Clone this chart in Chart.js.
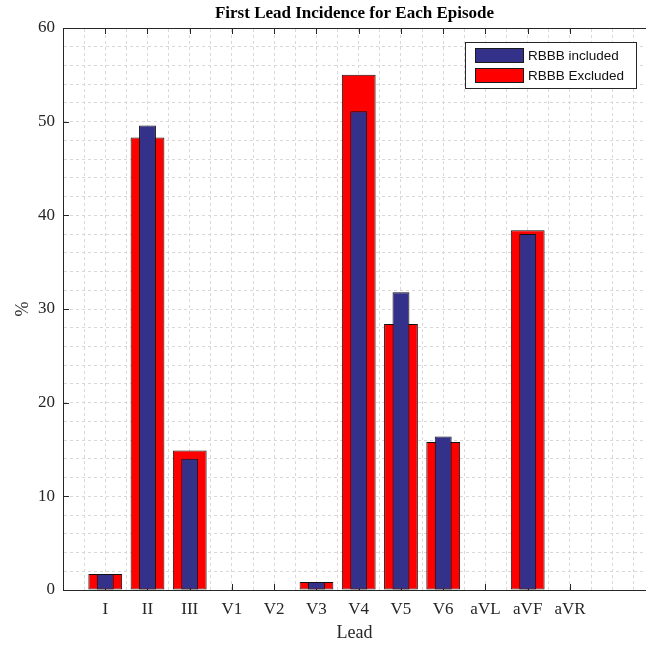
<!DOCTYPE html>
<html>
<head>
<meta charset="utf-8">
<script src="https://cdn.jsdelivr.net/npm/chart.js@4"></script>
<style>
html,body{margin:0;padding:0;overflow:hidden;background:#fff;}
#wrap{width:646px;height:646px;}
</style>
</head>
<body>
<div id="wrap"><canvas id="c" width="646" height="646"></canvas></div>
<script>
const leads = ['I','II','III','V1','V2','V3','V4','V5','V6','aVL','aVF','aVR'];
const rbbbIncluded = [1.7, 49.6, 14.0, 0, 0, 0.85, 51.1, 31.8, 16.4, 0, 38.0, 0];
const rbbbExcluded = [1.7, 48.3, 14.9, 0, 0, 0.85, 55.0, 28.4, 15.8, 0, 38.4, 0];
const seriesNames = ['RBBB included', 'RBBB Excluded'];
const yTickValues = [0, 10, 20, 30, 40, 50, 60];
const chartTitle = 'First Lead Incidence for Each Episode';
const xTitle = 'Lead';
const yTitle = '%';

const BLUE = '#33318a';
const RED = '#ff0000';
const AXIS = '#262626';
const GRID = '#d8d8d8';
const SERIF = "'Liberation Serif', 'Times New Roman', serif";
const SANS = "'Liberation Sans', Arial, sans-serif";

const toPoints = arr => arr.map((v, i) => ({x: i + 1, y: v}));

const inwardTicks = {
  id: 'inwardTicks',
  beforeDatasetsDraw(chart) {
    const {ctx, chartArea: a, scales: {x, y}} = chart;
    ctx.save();
    ctx.strokeStyle = AXIS;
    ctx.lineWidth = 1;
    ctx.beginPath();
    leads.forEach((_, i) => {
      const px = Math.round(x.getPixelForValue(i + 1)) + 0.5;
      ctx.moveTo(px, a.bottom); ctx.lineTo(px, a.bottom - 6);
      ctx.moveTo(px, a.top); ctx.lineTo(px, a.top + 6);
    });
    yTickValues.forEach(v => {
      const py = Math.round(y.getPixelForValue(v)) + 0.5;
      ctx.moveTo(a.left, py); ctx.lineTo(a.left + 6, py);
    });
    ctx.stroke();
    ctx.restore();
  }
};

const boxLegend = {
  id: 'boxLegend',
  afterDraw(chart) {
    const {ctx} = chart;
    const ds = chart.data.datasets;
    const bx = 465.5, by = 42.5, bw = 171, bh = 46;
    ctx.save();
    ctx.fillStyle = '#fff';
    ctx.fillRect(bx, by, bw, bh);
    ctx.strokeStyle = AXIS;
    ctx.lineWidth = 1;
    ctx.strokeRect(bx, by, bw, bh);
    ctx.font = '13.5px ' + SANS;
    ctx.textBaseline = 'middle';
    ctx.textAlign = 'left';
    ds.forEach((d, i) => {
      const sy = 48.5 + i * 20;
      ctx.fillStyle = d.backgroundColor;
      ctx.fillRect(475.5, sy, 48, 14);
      ctx.strokeStyle = '#1a1a1a';
      ctx.strokeRect(475.5, sy, 48, 14);
      ctx.fillStyle = '#111';
      ctx.fillText(d.label, 528, sy + 7.5);
    });
    ctx.restore();
  }
};

new Chart(document.getElementById('c'), {
  type: 'bar',
  data: {
    datasets: [
      {
        label: seriesNames[0],
        data: toPoints(rbbbIncluded),
        backgroundColor: BLUE,
        borderColor: '#111',
        borderWidth: 1,
        borderSkipped: false,
        barPercentage: 0.4,
        categoryPercentage: 1,
        order: 0,
        xAxisID: 'x'
      },
      {
        label: seriesNames[1],
        data: toPoints(rbbbExcluded),
        backgroundColor: RED,
        borderColor: '#111',
        borderWidth: 1,
        borderSkipped: false,
        barPercentage: 0.8,
        categoryPercentage: 1,
        order: 1,
        xAxisID: 'x'
      }
    ]
  },
  options: {
    responsive: false,
    animation: false,
    devicePixelRatio: 1,
    layout: {padding: 0},
    datasets: {bar: {grouped: false}},
    plugins: {
      legend: {display: false},
      title: {display: false},
      tooltip: {enabled: false}
    },
    scales: {
      x: {
        type: 'linear',
        position: 'bottom',
        min: 0,
        max: 13.8,
        offset: false,
        afterFit: s => { s.height = 56; },
        ticks: {
          stepSize: 1,
          includeBounds: false,
          autoSkip: false,
          maxRotation: 0,
          padding: 9,
          color: AXIS,
          font: {family: SERIF, size: 17},
          callback: v => (Number.isInteger(v) && v >= 1 && v <= leads.length) ? leads[v - 1] : ''
        },
        grid: {display: false, drawTicks: false, offset: false},
        border: {display: true, color: AXIS, width: 1},
        title: {
          display: true, text: xTitle, color: AXIS,
          font: {family: SERIF, size: 18}, padding: {top: 0, bottom: 2}
        }
      },
      xTop: {
        type: 'linear',
        position: 'top',
        min: 0,
        max: 13.8,
        offset: false,
        afterFit: s => { s.height = 28; },
        ticks: {display: false, stepSize: 0.5, includeBounds: false, autoSkip: false},
        grid: {display: true, drawTicks: false, offset: false, color: GRID, lineWidth: 1},
        border: {display: true, color: AXIS, width: 1, dash: [3, 3]},
        title: {
          display: true, text: chartTitle, color: '#000',
          font: {family: SERIF, size: 17, weight: 'bold'}, padding: {top: 3, bottom: 0}
        }
      },
      y: {
        type: 'linear',
        position: 'left',
        min: 0,
        max: 60,
        afterFit: s => { s.width = 63; },
        ticks: {
          stepSize: 2,
          autoSkip: false,
          padding: 8,
          color: AXIS,
          font: {family: SERIF, size: 17},
          callback: v => yTickValues.includes(v) ? String(v) : ''
        },
        grid: {display: true, drawTicks: false, color: GRID, lineWidth: 1},
        border: {display: true, color: AXIS, width: 1, dash: [3, 3]},
        title: {
          display: true, text: yTitle, color: AXIS,
          font: {family: SERIF, size: 18}, padding: {top: 12, bottom: 0}
        }
      }
    }
  },
  plugins: [inwardTicks, boxLegend]
});
</script>
</body>
</html>
